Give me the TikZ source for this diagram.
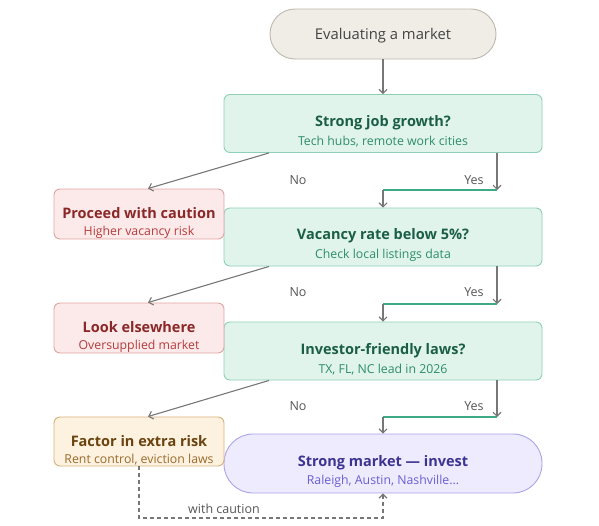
\documentclass[tikz,border=0pt]{standalone}
\usepackage{fontspec}
\setmainfont{Open Sans}
\usetikzlibrary{arrows.meta}
\definecolor{startfill}{HTML}{F0EDE6}
\definecolor{startdraw}{HTML}{BDB8AE}
\definecolor{starttext}{HTML}{444444}
\definecolor{qfill}{HTML}{E0F4EC}
\definecolor{qdraw}{HTML}{8ED0B6}
\definecolor{qtitle}{HTML}{1B5E48}
\definecolor{qsub}{HTML}{2E8C6A}
\definecolor{rfill}{HTML}{FCE9E9}
\definecolor{rdraw}{HTML}{E2A3A3}
\definecolor{rtitle}{HTML}{8A2828}
\definecolor{rsub}{HTML}{B43C3C}
\definecolor{ofill}{HTML}{FDF1DF}
\definecolor{odraw}{HTML}{D8B07A}
\definecolor{otitle}{HTML}{6A430F}
\definecolor{osub}{HTML}{9A6A2A}
\definecolor{pfill}{HTML}{EDEBFD}
\definecolor{pdraw}{HTML}{ABA4EA}
\definecolor{ptitle}{HTML}{3C3490}
\definecolor{psub}{HTML}{6A5FD0}
\definecolor{lgray}{HTML}{777777}
\definecolor{lgreen}{HTML}{3DAA85}
\definecolor{lbl}{HTML}{555555}
\tikzset{
  x=1pt, y=-1pt,
  box/.style={rounded corners=6pt, line width=0.9pt, inner sep=0pt, align=center},
  qbox/.style={box, fill=qfill, draw=qdraw, minimum width=318pt, minimum height=58pt},
  sidebox/.style={box, minimum width=170pt, minimum height=50pt},
  conn/.style={draw=lgray, line width=1.1pt, -{Straight Barb[length=4pt,width=8pt]}},
  gline/.style={draw=lgreen, line width=1.5pt},
  lab/.style={font=\fontsize{12.5}{14}\selectfont, text=lbl, inner sep=0pt}
}
\newcommand{\ttl}[1]{{\fontsize{14.5}{16}\selectfont\bfseries #1}}
\newcommand{\stl}[1]{{\fontsize{12.3}{14}\selectfont #1}}
\newcommand{\tstrut}[1]{\rule{0pt}{#1}}
\begin{document}
\begin{tikzpicture}
\useasboundingbox (0,0) rectangle (599,525);
\node[box, rounded corners=25pt, fill=startfill, draw=startdraw, minimum width=226pt, minimum height=50pt,
  text=starttext, font=\fontsize{14.8}{16}\selectfont] (start) at (383,34) {\tstrut{14pt}Evaluating a market};
\node[qbox] (q1) at (383,123.5) {\tstrut{27pt}\textcolor{qtitle}{\ttl{Strong job growth?}}\\[5pt]\textcolor{qsub}{\stl{Tech hubs, remote work cities}}};
\node[qbox] (q2) at (383,237) {\tstrut{27pt}\textcolor{qtitle}{\ttl{Vacancy rate below 5\%?}}\\[5pt]\textcolor{qsub}{\stl{Check local listings data}}};
\node[qbox] (q3) at (383,351) {\tstrut{27pt}\textcolor{qtitle}{\ttl{Investor-friendly laws?}}\\[5pt]\textcolor{qsub}{\stl{TX, FL, NC lead in 2026}}};
\node[box, rounded corners=29pt, fill=pfill, draw=pdraw, minimum width=318pt, minimum height=59pt] (invest) at (383,463.5)
  {\tstrut{27pt}\textcolor{ptitle}{\ttl{Strong market — invest}}\\[5pt]\textcolor{psub}{\stl{Raleigh, Austin, Nashville...}}};
\node[sidebox, fill=rfill, draw=rdraw] (caution) at (139,214) {\tstrut{29pt}\textcolor{rtitle}{\ttl{Proceed with caution}}\\[5pt]\textcolor{rsub}{\stl{Higher vacancy risk}}};
\node[sidebox, fill=rfill, draw=rdraw] (else) at (139,328) {\tstrut{29pt}\textcolor{rtitle}{\ttl{Look elsewhere}}\\[5pt]\textcolor{rsub}{\stl{Oversupplied market}}};
\node[sidebox, fill=ofill, draw=odraw, minimum height=49pt] (risk) at (139,441.5) {\tstrut{29pt}\textcolor{otitle}{\ttl{Factor in extra risk}}\\[5pt]\textcolor{osub}{\stl{Rent control, eviction laws}}};

\draw[conn] (start) -- (q1);
% Q1
\coordinate (y1) at (497,190);
\coordinate (m1) at (383,190);
\draw[conn] (q1.south -| y1) -- (y1);
\draw[gline] (y1) -- (m1);
\draw[conn] (m1) -- (q2.north);
\draw[conn] (q1.south -| 269,0) -- (caution.north -| 148,0);
\node[lab] (no1) at (298,180) {No};
\node[lab] (yes1) at (474,180) {Yes};
% Q2
\coordinate (y2) at (497,304);
\coordinate (m2) at (383,304);
\draw[conn] (q2.south -| y2) -- (y2);
\draw[gline] (y2) -- (m2);
\draw[conn] (m2) -- (q3.north);
\draw[conn] (q2.south -| 269,0) -- (else.north -| 148,0);
\node[lab] (no2) at (298,292) {No};
\node[lab] (yes2) at (474,292) {Yes};
% Q3
\coordinate (y3) at (497,417);
\coordinate (m3) at (383,417);
\draw[conn] (q3.south -| y3) -- (y3);
\draw[gline] (y3) -- (m3);
\draw[conn] (m3) -- (invest.north);
\draw[conn] (q3.south -| 269,0) -- (risk.north -| 148,0);
\node[lab] (no3) at (298,406) {No};
\node[lab] (yes3) at (474,406) {Yes};
% dashed
\coordinate (d1) at (139,518);
\coordinate (d2) at (383,518);
\draw[conn, dashed, dash pattern=on 4pt off 3pt] (risk.south) -- (d1) -- (d2) -- (invest.south);
\node[lab] (wc) at (224,509) {with caution};
\end{tikzpicture}
\end{document}
